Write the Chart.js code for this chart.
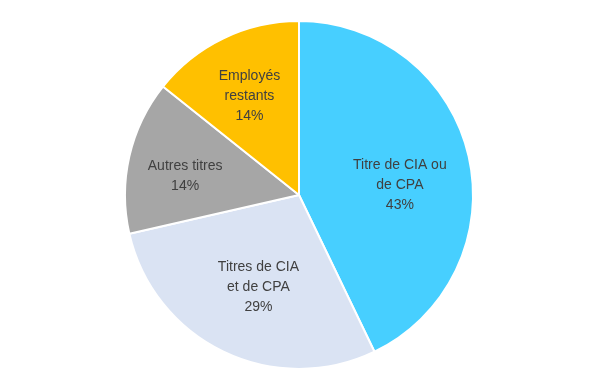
<!DOCTYPE html>
<html><head><meta charset="utf-8">
<script src="https://cdn.jsdelivr.net/npm/chart.js@4"></script>
<style>html,body{margin:0;padding:0;background:#fff}#wrap{width:598px;height:388px}</style>
</head><body><div id="wrap"><canvas id="c"></canvas></div>
<script>
const categories = [["Titre de CIA ou", "de CPA"], ["Titres de CIA", "et de CPA"], ["Autres titres"], ["Employés", "restants"]];
const values = [3, 2, 1, 1];
const colors = ["#47CFFF", "#DAE3F3", "#A6A6A6", "#FFC000"];

const labelPlugin = {
  id: 'inLabels',
  afterDatasetsDraw(chart, args, opts) {
    const ctx = chart.ctx;
    const meta = chart.getDatasetMeta(0);
    const total = values.reduce((a, b) => a + b, 0);
    const nudges = opts.nudges || [];
    ctx.save();
    ctx.fillStyle = '#404040';
    ctx.font = '14px "Liberation Sans", Arial, sans-serif';
    ctx.textAlign = 'center';
    ctx.textBaseline = 'middle';
    meta.data.forEach((arc, i) => {
      const mid = (arc.startAngle + arc.endAngle) / 2;
      const r = arc.outerRadius * 0.63;
      const n = nudges[i] || [0, 0];
      const x = arc.x + Math.cos(mid) * r + n[0];
      const y = arc.y + Math.sin(mid) * r + n[1];
      const lines = categories[i].concat([Math.round(values[i] / total * 100) + '%']);
      const lh = 20;
      const y0 = y - (lines.length - 1) * lh / 2;
      lines.forEach((t, k) => ctx.fillText(t, x, y0 + k * lh));
    });
    ctx.restore();
  }
};

new Chart(document.getElementById('c'), {
  type: 'pie',
  data: {
    labels: categories.map(c => c.join(' ')),
    datasets: [{ data: values, backgroundColor: colors, borderColor: '#FFFFFF', borderWidth: 2 }]
  },
  options: {
    responsive: true, maintainAspectRatio: false, animation: false,
    layout: { padding: { top: 20, bottom: 18, left: 0, right: 0 } },
    plugins: {
      legend: { display: false }, tooltip: { enabled: false },
      inLabels: { nudges: [[-6, 15], [7, -7], [-7, 6], [-2, 0]] }
    }
  },
  plugins: [labelPlugin]
});
</script></body></html>
